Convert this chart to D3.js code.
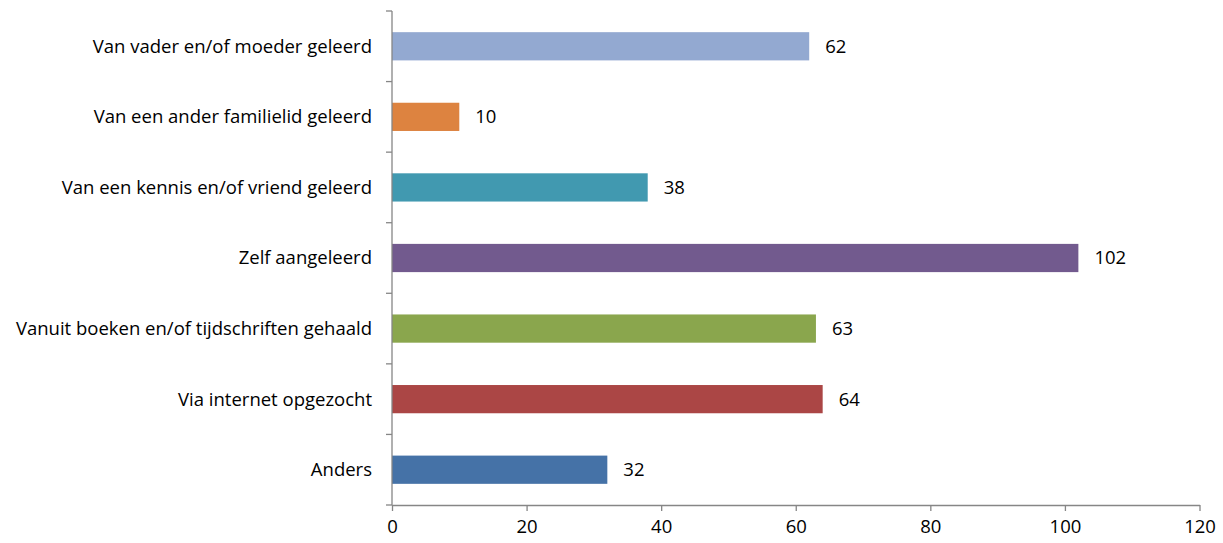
<!DOCTYPE html>
<html>
<head>
<meta charset="utf-8">
<script src="https://cdn.jsdelivr.net/npm/d3@7"></script>
<style>
  body { margin: 0; background: #fff; }
  text { font-family: "Open Sans", "Liberation Sans", sans-serif; fill: #000; }
</style>
</head>
<body>
<div id="wrapper"></div>
<script>
// data
const categories = [
  "Van vader en/of moeder geleerd",
  "Van een ander familielid geleerd",
  "Van een kennis en/of vriend geleerd",
  "Zelf aangeleerd",
  "Vanuit boeken en/of tijdschriften gehaald",
  "Via internet opgezocht",
  "Anders"
];
const values = [62, 10, 38, 102, 63, 64, 32];
const barColors = ["#93a9d1", "#dd8340", "#4199b0", "#725a8e", "#8aa64d", "#ab4645", "#4572a7"];
const xTicks = [0, 20, 40, 60, 80, 100, 120];

const dataset = categories.map((c, i) => ({ category: c, value: values[i], color: barColors[i] }));

// dimensions
const dimensions = {
  width: 1223,
  height: 543,
  margin: { top: 11, right: 23.5, bottom: 38, left: 392 }
};
dimensions.boundedWidth = dimensions.width - dimensions.margin.left - dimensions.margin.right;
dimensions.boundedHeight = dimensions.height - dimensions.margin.top - dimensions.margin.bottom;

const fontSize = "18.5px";

const svg = d3.select("#wrapper")
  .append("svg")
  .attr("width", dimensions.width)
  .attr("height", dimensions.height);

const bounds = svg.append("g")
  .attr("transform", `translate(${dimensions.margin.left},${dimensions.margin.top})`);

// scales
const xScale = d3.scaleLinear()
  .domain([0, 120])
  .range([0, dimensions.boundedWidth]);

const yScale = d3.scaleBand()
  .domain(categories)
  .range([0, dimensions.boundedHeight])
  .paddingInner(0.6)
  .paddingOuter(0.3);

// bars
bounds.selectAll(".bar")
  .data(dataset)
  .join("rect")
  .attr("class", "bar")
  .attr("x", 0)
  .attr("y", d => yScale(d.category))
  .attr("width", d => xScale(d.value))
  .attr("height", yScale.bandwidth())
  .attr("fill", d => d.color);

// value labels
bounds.selectAll(".value")
  .data(dataset)
  .join("text")
  .attr("class", "value")
  .attr("x", d => xScale(d.value) + 16)
  .attr("y", d => yScale(d.category) + yScale.bandwidth() / 2)
  .attr("dy", "0.35em")
  .style("font-size", fontSize)
  .text(d => d.value);

const axisColor = "#868686";

// x axis
const xAxis = bounds.append("g")
  .attr("transform", `translate(0,${dimensions.boundedHeight})`)
  .call(d3.axisBottom(xScale).tickValues(xTicks).tickSize(6).tickSizeOuter(0).tickPadding(9));
xAxis.select(".domain").attr("stroke", axisColor).attr("stroke-width", 1.3);
xAxis.selectAll(".tick line").attr("stroke", axisColor).attr("stroke-width", 1.3);
xAxis.selectAll(".tick text").style("font-size", fontSize).attr("fill", "#000");

// y axis: line with ticks at category boundaries
const yAxis = bounds.append("g");
yAxis.append("line")
  .attr("x1", 0).attr("x2", 0)
  .attr("y1", 0).attr("y2", dimensions.boundedHeight)
  .attr("stroke", axisColor).attr("stroke-width", 1.3);
const step = yScale.step();
const boundaries = d3.range(categories.length + 1).map(i => i * step);
yAxis.selectAll(".ytick")
  .data(boundaries)
  .join("line")
  .attr("class", "ytick")
  .attr("x1", -6).attr("x2", 0)
  .attr("y1", d => d).attr("y2", d => d)
  .attr("stroke", axisColor).attr("stroke-width", 1.3);
yAxis.selectAll(".ylabel")
  .data(categories)
  .join("text")
  .attr("class", "ylabel")
  .attr("x", -20)
  .attr("y", d => yScale(d) + yScale.bandwidth() / 2)
  .attr("dy", "0.35em")
  .attr("text-anchor", "end")
  .style("font-size", fontSize)
  .text(d => d);
</script>
</body>
</html>
